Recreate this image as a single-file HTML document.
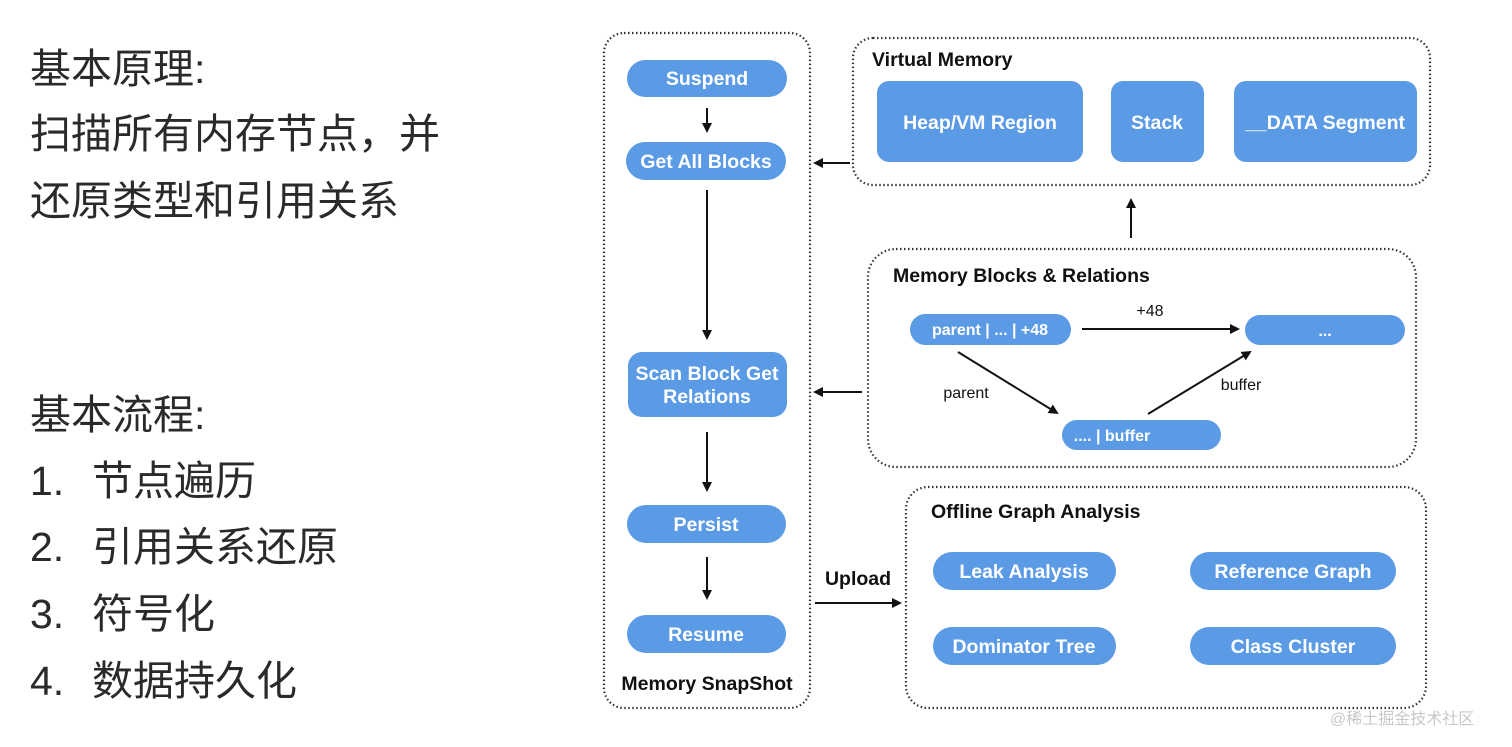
<!DOCTYPE html>
<html><head><meta charset="utf-8"><style>
html,body{margin:0;padding:0;background:#fff;}
svg{display:block}
.cj{font-family:"Liberation Sans","Noto Sans CJK SC",sans-serif;font-size:41px;fill:#2a2a2a}
.n{fill:#5b9be6}
.t{font-family:"Liberation Sans",sans-serif;font-weight:bold;fill:#fff;font-size:19.5px;text-anchor:middle}
.s{font-family:"Liberation Sans",sans-serif;font-weight:bold;fill:#fff;font-size:16px;text-anchor:middle}
.h{font-family:"Liberation Sans",sans-serif;font-weight:bold;fill:#111;font-size:19.5px}
.l{font-family:"Liberation Sans",sans-serif;fill:#111;font-size:16px}
.box{fill:none;stroke:#333;stroke-width:2.2;stroke-dasharray:1.5 2.5}
.a{stroke:#111;stroke-width:2;fill:none;marker-end:url(#ar)}
</style></head><body>
<svg width="1512" height="747" viewBox="0 0 1512 747">
<defs><marker id="ar" markerWidth="10" markerHeight="10" refX="8" refY="5" orient="auto" markerUnits="userSpaceOnUse"><path d="M0,0 L10,5 L0,10 z" fill="#111"/></marker></defs>
<text class="cj" x="30" y="83">基本原理:</text>
<text class="cj" x="30" y="148">扫描所有内存节点，并</text>
<text class="cj" x="30" y="215">还原类型和引用关系</text>
<text class="cj" x="30" y="429">基本流程:</text>
<text class="cj" x="30" y="495">1.</text><text class="cj" x="92" y="495">节点遍历</text>
<text class="cj" x="30" y="561">2.</text><text class="cj" x="92" y="561">引用关系还原</text>
<text class="cj" x="30" y="628">3.</text><text class="cj" x="92" y="628">符号化</text>
<text class="cj" x="30" y="695">4.</text><text class="cj" x="92" y="695">数据持久化</text>

<rect class="box" x="604" y="33" width="206" height="675" rx="20"/>
<rect class="n" x="627" y="60" width="160" height="37" rx="18.5"/><text class="t" x="707" y="85">Suspend</text>
<rect class="n" x="626" y="142" width="160" height="38" rx="19"/><text class="t" x="706" y="168">Get All Blocks</text>
<rect class="n" x="628" y="352" width="159" height="65" rx="14"/><text class="t" x="707" y="380">Scan Block Get</text><text class="t" x="707" y="403">Relations</text>
<rect class="n" x="627" y="505" width="159" height="38" rx="19"/><text class="t" x="706" y="531">Persist</text>
<rect class="n" x="627" y="615" width="159" height="38" rx="19"/><text class="t" x="706" y="641">Resume</text>
<text class="h" x="707" y="690" text-anchor="middle">Memory SnapShot</text>
<line class="a" x1="707" y1="108" x2="707" y2="131"/>
<line class="a" x1="707" y1="190" x2="707" y2="338"/>
<line class="a" x1="707" y1="432" x2="707" y2="490"/>
<line class="a" x1="707" y1="557" x2="707" y2="598"/>

<rect class="box" x="853" y="38" width="577" height="147" rx="20"/>
<text class="h" x="872" y="66">Virtual Memory</text>
<rect class="n" x="877" y="81" width="206" height="81" rx="12"/><text class="t" x="980" y="129">Heap/VM Region</text>
<rect class="n" x="1111" y="81" width="93" height="81" rx="12"/><text class="t" x="1157" y="129">Stack</text>
<rect class="n" x="1234" y="81" width="183" height="81" rx="12"/><text class="t" x="1325" y="129">__DATA Segment</text>
<line class="a" x1="850" y1="163" x2="815" y2="163"/>
<line class="a" x1="1131" y1="238" x2="1131" y2="200"/>

<rect class="box" x="868" y="249" width="548" height="218" rx="28"/>
<text class="h" x="893" y="282">Memory Blocks &amp; Relations</text>
<rect class="n" x="910" y="314" width="161" height="31" rx="15.5"/><text class="s" x="990" y="335">parent | ... | +48</text>
<rect class="n" x="1245" y="315" width="160" height="30" rx="15"/><text class="s" x="1325" y="336">...</text>
<rect class="n" x="1062" y="420" width="159" height="30" rx="15"/><text class="s" x="1112" y="441">.... | buffer</text>
<line class="a" x1="1082" y1="329" x2="1238" y2="329"/>
<text class="l" x="1150" y="316" text-anchor="middle">+48</text>
<line class="a" x1="958" y1="352" x2="1057" y2="413"/>
<text class="l" x="966" y="398" text-anchor="middle">parent</text>
<line class="a" x1="1148" y1="414" x2="1250" y2="352"/>
<text class="l" x="1241" y="390" text-anchor="middle">buffer</text>
<line class="a" x1="862" y1="392" x2="815" y2="392"/>

<rect class="box" x="906" y="487" width="520" height="221" rx="22"/>
<text class="h" x="931" y="518">Offline Graph Analysis</text>
<rect class="n" x="933" y="552" width="183" height="38" rx="19"/><text class="t" x="1024" y="578">Leak Analysis</text>
<rect class="n" x="1190" y="552" width="206" height="38" rx="19"/><text class="t" x="1293" y="578">Reference Graph</text>
<rect class="n" x="933" y="627" width="183" height="38" rx="19"/><text class="t" x="1024" y="653">Dominator Tree</text>
<rect class="n" x="1190" y="627" width="206" height="38" rx="19"/><text class="t" x="1293" y="653">Class Cluster</text>
<line class="a" x1="815" y1="603" x2="900" y2="603"/>
<text class="h" x="858" y="585" text-anchor="middle">Upload</text>

<text x="1330" y="724" style="font-family:'Liberation Sans','Noto Sans CJK SC',sans-serif;font-size:16px;fill:#c8c8c8">@稀土掘金技术社区</text>
</svg>
</body></html>
